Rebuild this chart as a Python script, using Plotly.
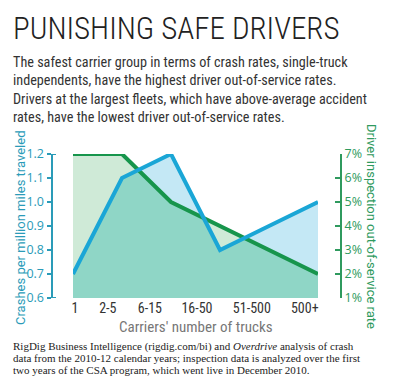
import numpy as np
import plotly.graph_objects as go

# ---- data ----
categories = ["1", "2-5", "6-15", "16-50", "51-500", "500+"]
crash_rate = [0.7, 1.1, 1.2, 0.8, 0.9, 1.0]          # crashes per million miles
oos_rate = [7, 7, 5, 4, 3, 2]                        # driver OOS rate, %
label_pos = [0.04, 0.71, 1.57, 2.53, 3.65, 4.73]     # where the printed labels sit
y_ticks = [0.6, 0.7, 0.8, 0.9, 1.0, 1.1, 1.2]
y_ticktext = ["0.6", "0.7", "0.8", "0.9", "1.0", "1.1", "1.2"]
y2_ticks = [1, 2, 3, 4, 5, 6, 7]
y2_ticktext = ["1%", "2%", "3%", "4%", "5%", "6%", "7%"]

x = list(range(len(categories)))

# axes aligned: 0.6..1.2 <-> 1%..7%
Y0, Y1 = 0.6, 1.2
P0, P1 = 1, 7
def pct_to_y(p):
    return Y0 + (p - P0) * (Y1 - Y0) / (P1 - P0)

g_common = [pct_to_y(p) for p in oos_rate]

# lower envelope of the two areas (overlap region)
ex, ey = [], []
for i in range(len(x)):
    ex.append(x[i]); ey.append(min(crash_rate[i], g_common[i]))
    if i < len(x) - 1:
        d0 = crash_rate[i] - g_common[i]
        d1 = crash_rate[i + 1] - g_common[i + 1]
        if d0 * d1 < 0:
            t = d0 / (d0 - d1)
            xi = x[i] + t * (x[i + 1] - x[i])
            yi = crash_rate[i] + t * (crash_rate[i + 1] - crash_rate[i])
            ex.append(xi); ey.append(yi)

BLUE = "#1aa6d6"
GREEN = "#17954c"
BLUE_FILL = "#c4e8f5"
GREEN_FILL = "#cfead7"
OVERLAP = "#8fd6c6"
AX_BLUE = "#2a9bb8"
AX_GREEN = "#2f9a5e"
COND = "Roboto Condensed, DejaVu Sans Condensed, sans-serif"

# page has an 8px body margin; work in page pixels and convert
OFF = 8
W, H = 392, 383
ML, MT, MB = 32, 146, 93
PW = 320
MR = W - ML - PW
PH = H - MT - MB
def px(v):
    return (v - OFF - ML) / PW
def py(v):
    return (H - MB - (v - OFF)) / PH

fig = go.Figure()
# layer y  (percent): green area
fig.add_trace(go.Scatter(x=x, y=oos_rate, fill="tozeroy", fillcolor=GREEN_FILL,
                         mode="none", hoverinfo="skip", yaxis="y"))
# layer y2 (crash): blue area + overlap
fig.add_trace(go.Scatter(x=x, y=crash_rate, fill="tozeroy", fillcolor=BLUE_FILL,
                         mode="none", hoverinfo="skip", yaxis="y2"))
fig.add_trace(go.Scatter(x=ex, y=ey, fill="tozeroy", fillcolor=OVERLAP,
                         mode="none", hoverinfo="skip", yaxis="y2"))
# layer y3 (percent): green line
fig.add_trace(go.Scatter(x=x, y=oos_rate, mode="lines", yaxis="y3",
                         line=dict(color=GREEN, width=4)))
# layer y4 (crash): blue line
fig.add_trace(go.Scatter(x=x, y=crash_rate, mode="lines", yaxis="y4",
                         line=dict(color=BLUE, width=4)))

xdom = [px(73), px(318)]
fig.update_layout(
    width=W, height=H, margin=dict(l=ML, r=MR, t=MT, b=MB),
    paper_bgcolor="white", plot_bgcolor="white", showlegend=False,
    font=dict(family="Open Sans", size=13),
    xaxis=dict(domain=xdom, range=[0, 5], tickmode="array", tickvals=label_pos,
               ticktext=categories, showgrid=False, zeroline=False, showline=False,
               ticks="", tickfont=dict(family=COND, size=14, color="#333333"),
               fixedrange=True),
    yaxis=dict(range=[P0, P1], anchor="free", position=px(341),
               side="right", tickmode="array", tickvals=y2_ticks, ticktext=y2_ticktext,
               showgrid=False, zeroline=False, showline=True, linecolor=AX_GREEN,
               linewidth=2, ticks="inside", ticklen=5, tickwidth=2, tickcolor=AX_GREEN,
               tickfont=dict(family="Open Sans", size=12.5, color=AX_GREEN)),
    yaxis2=dict(range=[Y0, Y1], overlaying="y", anchor="free", position=px(51.5),
                side="left", tickmode="array",
                tickvals=y_ticks, ticktext=y_ticktext, showgrid=False, zeroline=False,
                showline=True, linecolor=AX_BLUE, linewidth=2, ticks="outside",
                ticklen=4, tickwidth=2, tickcolor=AX_BLUE,
                tickfont=dict(family="Open Sans", size=12.5, color=AX_BLUE)),
    yaxis3=dict(range=[P0, P1], overlaying="y", visible=False),
    yaxis4=dict(range=[Y0, Y1], overlaying="y", visible=False),
)

# end caps on left axis
for yy in [Y0, Y1]:
    fig.add_shape(type="line", xref="paper", yref="y2", x0=px(51.5), x1=px(56),
                  y0=yy, y1=yy, line=dict(color=AX_BLUE, width=2))

ann = []
def add_text(text, xp, yp, font, xanchor="left", angle=0):
    ann.append(dict(text=text, x=px(xp), y=py(yp), xref="paper", yref="paper",
                    xanchor=xanchor, yanchor="middle", textangle=angle,
                    showarrow=False, font=font))

add_text("PUNISHING SAFE DRIVERS", 11, 28,
         dict(family=COND, size=31, weight=300, color="#222222"))
sub = ["The safest carrier group in terms of crash rates, single-truck",
       "independents, have the highest driver out-of-service rates.",
       "Drivers at the largest fleets, which have above-average accident",
       "rates, have the lowest driver out-of-service rates."]
for i, s in enumerate(sub):
    add_text(s, 11, 62 + i * 18.3, dict(family=COND, size=14.2, color="#333333"))
add_text("Carriers' number of trucks", 196, 327,
         dict(family=COND, size=15, color="#777777"), xanchor="center")
add_text("Crashes per million miles traveled", 20, 228,
         dict(family="Roboto", size=13, color=AX_BLUE), xanchor="center", angle=-90)
add_text("Driver inspection out-of-service rate", 372, 226,
         dict(family="Roboto", size=13, color=AX_GREEN), xanchor="center", angle=90)
foot = ["RigDig Business Intelligence (rigdig.com/bi) and <i>Overdrive</i> analysis of crash",
        "data from the 2010-12 calendar years; inspection data is analyzed over the first",
        "two years of the CSA program, which went live in December 2010."]
for i, s in enumerate(foot):
    add_text(s, 11, 346 + i * 12, dict(family="Liberation Serif", size=11, color="#222222"))
fig.update_layout(annotations=ann)

fig.write_html("out.html")
